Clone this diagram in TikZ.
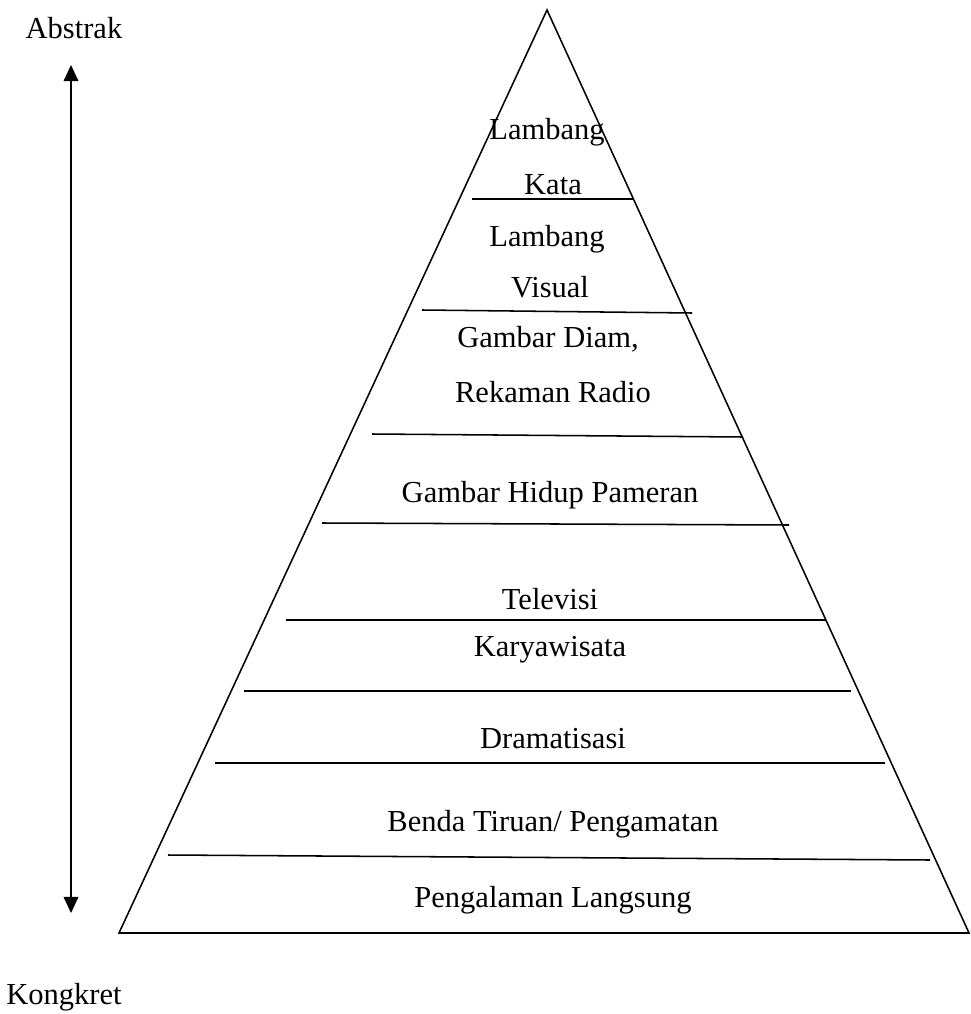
\documentclass[tikz,border=0pt]{standalone}
\usepackage{fontspec}
\setmainfont{Liberation Serif}
\usetikzlibrary{arrows.meta}
\tikzset{
  lvl/.style={inner sep=0pt,font=\fontsize{11.9}{14}\selectfont},
  side/.style={inner sep=0pt,font=\fontsize{11.9}{14}\selectfont},
  rule/.style={line width=0.6pt},
  axisarrow/.style={{Triangle[length=2.2mm,width=2mm]}-{Triangle[length=2.2mm,width=2mm]},line width=0.6pt},
}
\begin{document}
\begin{tikzpicture}[x=0.39pt,y=-0.39pt]
\useasboundingbox (0,0) rectangle (971,1014);
% pyramid
\coordinate (top)  at (547,10);
\coordinate (botl) at (119,933);
\coordinate (botr) at (969,933);
\draw[rule,line join=miter] (top) -- (botr) -- (botl) -- cycle;
% dividers
\draw[rule] (472,199) -- (634,199);
\draw[rule] (422,310) -- (692,313);
\draw[rule] (372,434) -- (743,437);
\draw[rule] (322,523) -- (789,525);
\draw[rule] (286,620) -- (826,620);
\draw[rule] (244,691) -- (851,691);
\draw[rule] (215,763) -- (885,763);
\draw[rule] (168,855) -- (930,860);
% labels
\node[lvl] (kata1) at (547,132) {Lambang};
\node[lvl] (kata2) at (553,185) {Kata};
\node[lvl] (vis1)  at (547,239) {Lambang};
\node[lvl] (vis2)  at (550,287) {Visual};
\node[lvl] (diam)  at (548,339) {Gambar Diam,};
\node[lvl] (radio) at (553,392) {Rekaman Radio};
\node[lvl] (hidup) at (550,495) {Gambar Hidup Pameran};
\node[lvl] (tv)    at (550,599) {Televisi};
\node[lvl] (karya) at (550,650) {Karyawisata};
\node[lvl] (drama) at (553,739) {Dramatisasi};
\node[lvl] (benda) at (553,824) {Benda Tiruan/ Pengamatan};
\node[lvl] (alam)  at (553,900) {Pengalaman Langsung};
% axis
\node[side] (abs) at (74,28)  {Abstrak};
\node[side] (kon) at (64,997) {Kongkret};
\coordinate (up)   at (71,65);
\coordinate (down) at (71,913);
\draw[axisarrow] (down) -- (up);
\end{tikzpicture}
\end{document}
